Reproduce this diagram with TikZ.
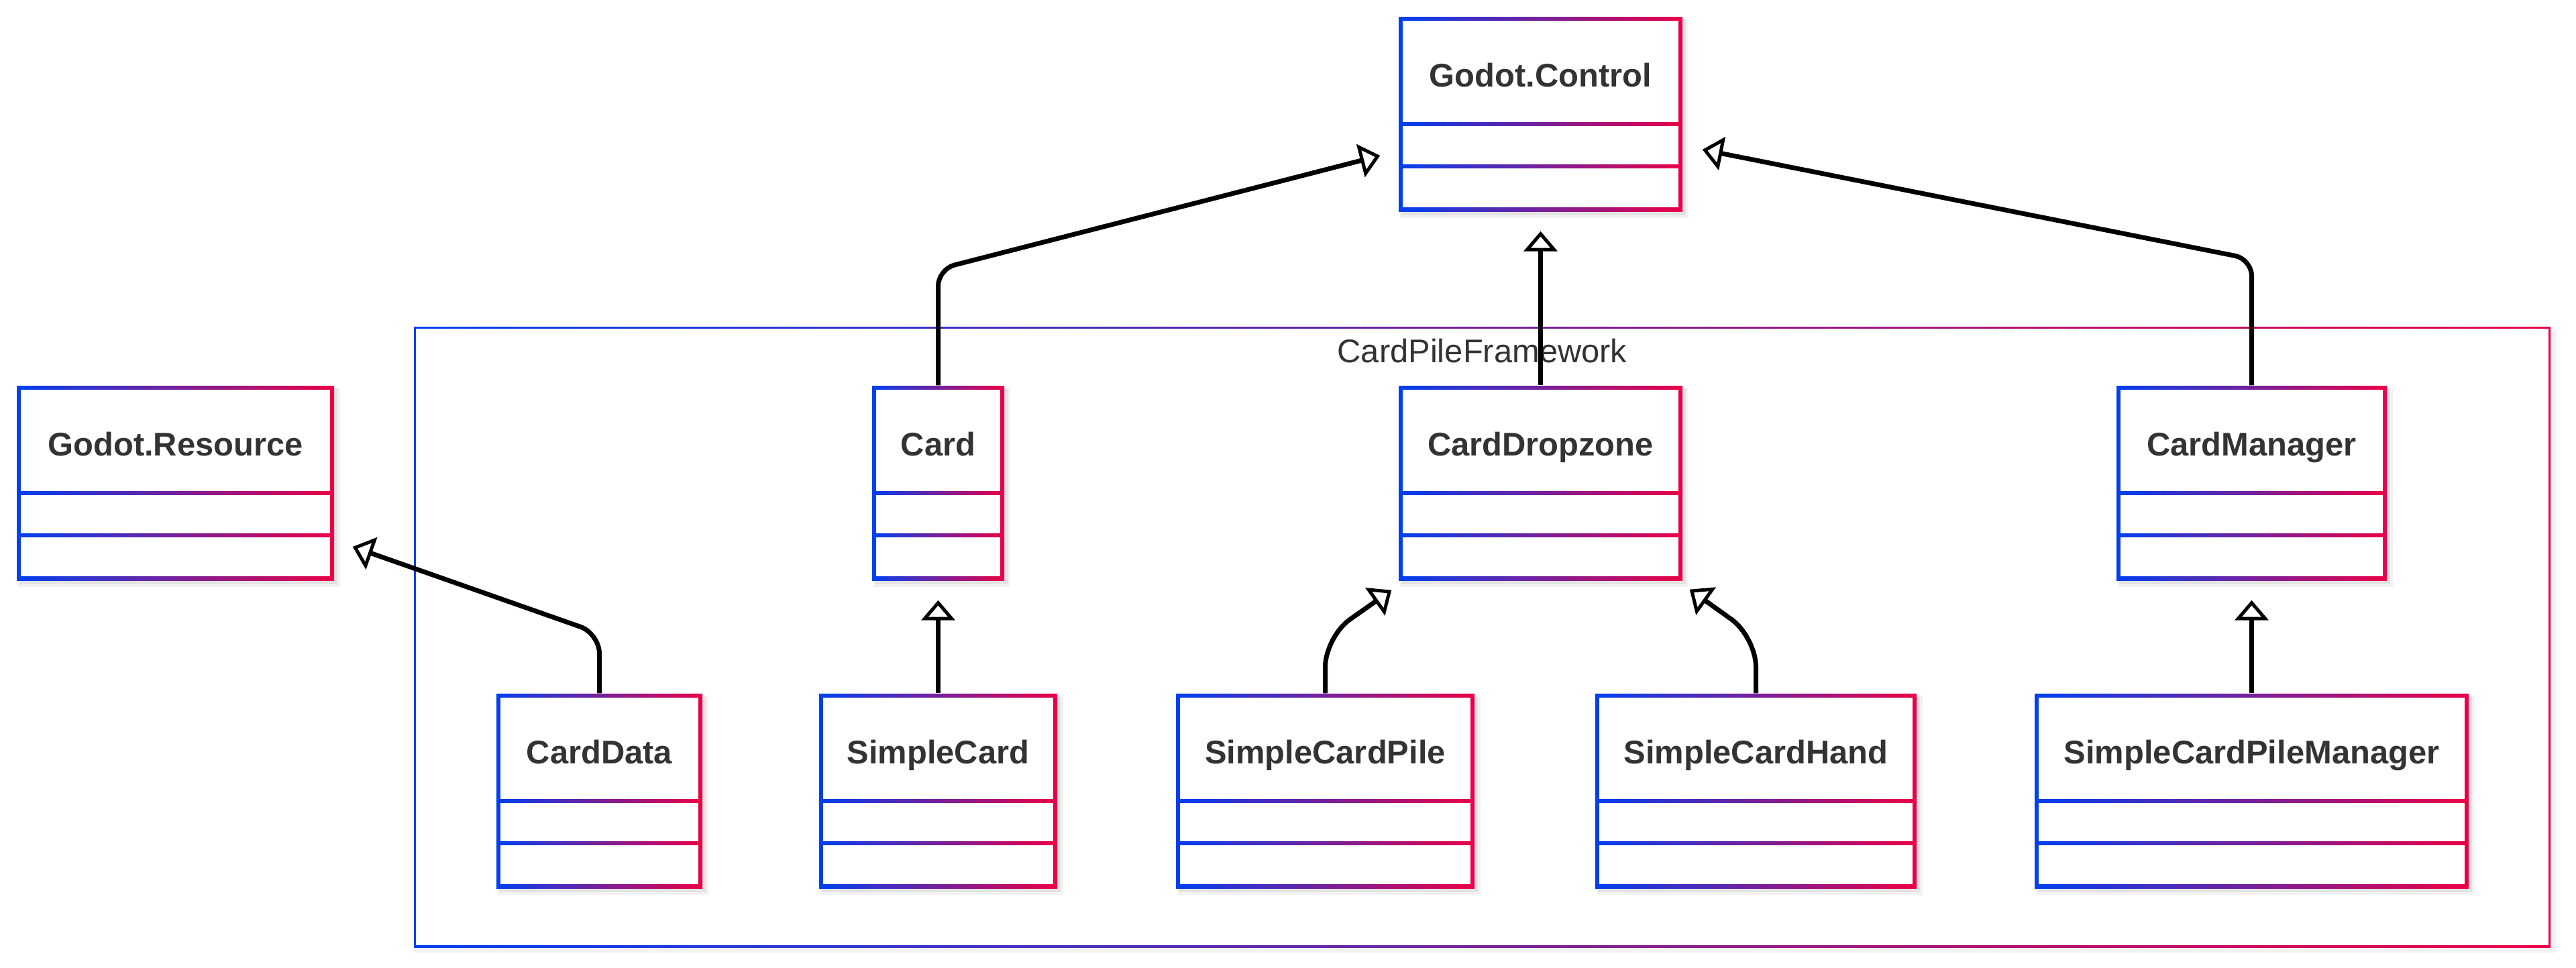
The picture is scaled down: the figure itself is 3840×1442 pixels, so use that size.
\documentclass[tikz,border=0pt]{standalone}
\usepackage{fontspec}
\setmainfont{Liberation Sans}
\usetikzlibrary{arrows.meta,fit,calc}
\definecolor{blueC}{RGB}{0,64,240}
\definecolor{redC}{RGB}{235,0,70}
\definecolor{txtC}{RGB}{51,51,51}
\tikzset{
  classname/.style={font=\bfseries\fontsize{13.9pt}{16pt}\selectfont, text=txtC, anchor=base, inner sep=0pt},
  framelabel/.style={font=\fontsize{13.9pt}{16pt}\selectfont, text=txtC, anchor=base, inner sep=0pt},
  inh/.style={draw=black, line width=0.07cm,
    -{Triangle[open, fill=white, length=0.3cm, width=0.5cm, line width=0.05cm]}},
  boxfit/.style={inner sep=0pt, draw=none}
}
% #1 name, #2 x1, #3 y1, #4 x2, #5 y2 (outer edges, px), #6 text
\newcommand{\umlclass}[6]{%
  \fill[black,opacity=0.05] ({#2+2},{#3+3}) rectangle ({#4+9},{#5+10});
  \fill[black,opacity=0.06] ({#2+4},{#3+5}) rectangle ({#4+5},{#5+6});
  \shade[left color=blueC,right color=redC] (#2,#3) rectangle (#4,#5);
  \fill[white] ({#2+6},{#3+6}) rectangle ({#4-6},{#3+157});
  \fill[white] ({#2+6},{#3+163}) rectangle ({#4-6},{#3+220});
  \fill[white] ({#2+6},{#3+226}) rectangle ({#4-6},{#5-6});
  \node[boxfit, fit={(#2,#3) (#4,#5)}] (#1) {};
  \node[classname] (#1-name) at ({(#2+#4)/2},{#3+104}) {#6};
}
\begin{document}
\begin{tikzpicture}[x=0.01cm, y=-0.01cm]
\useasboundingbox (0,0) rectangle (3840,1442);
\fill[white] (0,0) rectangle (3840,1442);

% top-level classes
\umlclass{ctrl}{2085}{25}{2508}{315}{Godot.Control}
\umlclass{res}{25}{575}{498}{865}{Godot.Resource}

% namespace frame
\fill[black,opacity=0.05] (619,490) rectangle (3810,1420);
\shade[left color=blueC,right color=redC] (617,487) rectangle (3802,1412);
\fill[white] (620,490) rectangle (3799,1409);
\node[boxfit, fit={(617,487) (3802,1412)}] (frame) {};
\node[framelabel] (frame-label) at (2209.5,540) {CardPileFramework};

% classes in the namespace
\umlclass{card}{1300}{575}{1497}{865}{Card}
\umlclass{drop}{2085}{575}{2508}{865}{CardDropzone}
\umlclass{mgr}{3155}{575}{3558}{865}{CardManager}
\umlclass{cdata}{740}{1034}{1047}{1324}{CardData}
\umlclass{scard}{1221}{1034}{1576}{1324}{SimpleCard}
\umlclass{spile}{1753}{1034}{2198}{1324}{SimpleCardPile}
\umlclass{shand}{2378}{1034}{2857}{1324}{SimpleCardHand}
\umlclass{spm}{3033}{1034}{3680}{1324}{SimpleCardPileManager}

% inheritance connectors
\draw[inh, rounded corners=0.25cm] (card.north) -- ($(card.north)+(0,-173)$) -- ($(ctrl.west)+(-27,62)$);
\draw[inh] (drop.north) -- ($(ctrl.south)+(0,29)$);
\draw[inh, rounded corners=0.25cm] (mgr.north) -- ($(mgr.north)+(0,-188)$) -- ($(ctrl.east)+(29,53)$);
\draw[inh, rounded corners=0.3cm] (cdata.north) -- ($(cdata.north)+(0,-89)$) -- ($(res.east)+(27,95)$);
\draw[inh] (scard.north) -- ($(card.south)+(0,29)$);
\draw[inh, rounded corners=0.45cm] (spile.north) -- ($(spile.north)+(0,-84)$) -- ($(drop.south west)+(-10,14)$);
\draw[inh, rounded corners=0.45cm] (shand.north) -- ($(shand.north)+(0,-84)$) -- ($(drop.south east)+(10,13)$);
\draw[inh] (spm.north) -- ($(mgr.south)+(0,29)$);
\end{tikzpicture}
\end{document}
